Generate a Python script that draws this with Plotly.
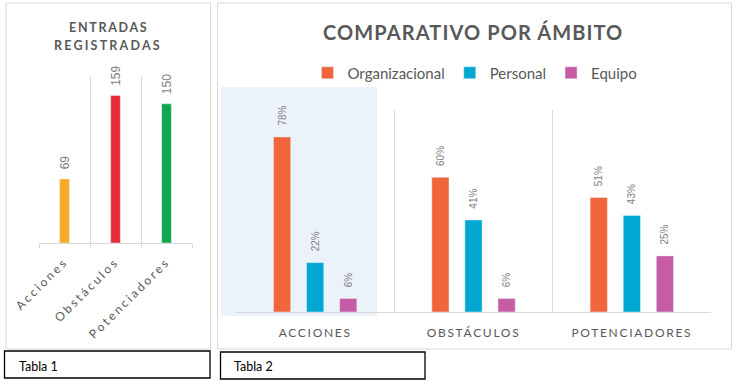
import plotly.graph_objects as go

W, H = 739, 384

# ---- data ----
entradas_cats = ["Acciones", "Obstáculos", "Potenciadores"]
entradas_vals = [69, 159, 150]
entradas_colors = ["#F9AA29", "#E62B3C", "#0FA64F"]

ambito_cats = ["ACCIONES", "OBSTÁCULOS", "POTENCIADORES"]
series_names = ["Organizacional", "Personal", "Equipo"]
organizacional = [78, 60, 51]
personal = [22, 41, 43]
equipo = [6, 6, 25]
series_colors = ["#F1653A", "#00A8D2", "#C65CA4"]


def px(x):
    return x / W


def py(y):
    return 1 - y / H


def spaced(t, s):
    return f'<span style="letter-spacing:{s}px">{t}</span>'


GRID = "#D9D9D9"
DARK = "#595959"
LBL = "#808080"

fig = go.Figure()

# left chart
fig.add_trace(go.Bar(
    x=[spaced(c, 2.6) for c in entradas_cats], y=entradas_vals,
    marker=dict(color=entradas_colors), width=0.19,
    text=["\u00a0\u00a0" + str(v) for v in entradas_vals],
    textposition="outside", textangle=-90, constraintext="none", cliponaxis=False,
    textfont=dict(family="Liberation Sans", size=12, color=LBL),
    showlegend=False, xaxis="x", yaxis="y", hoverinfo="skip",
))

# right chart
for name, vals, col in zip(series_names, [organizacional, personal, equipo], series_colors):
    fig.add_trace(go.Bar(
        x=[spaced(c, 1.7) for c in ambito_cats], y=vals, name=name,
        marker=dict(color=col),
        text=["\u00a0\u00a0\u00a0" + f"{v}%" for v in vals],
        textposition="outside", textangle=-90, constraintext="none", cliponaxis=False,
        textfont=dict(family="Liberation Sans", size=10, color=LBL),
        xaxis="x2", yaxis="y2",
    ))

shapes = [
    # panel borders
    dict(type="rect", xref="paper", yref="paper", x0=px(6), x1=px(210.5), y0=py(349), y1=py(3),
         line=dict(color=GRID, width=1), layer="below"),
    dict(type="rect", xref="paper", yref="paper", x0=px(217.5), x1=px(731.5), y0=py(349), y1=py(3),
         line=dict(color=GRID, width=1), layer="below"),
    # highlight
    dict(type="rect", xref="paper", yref="paper", x0=px(221), x1=px(377), y0=py(316), y1=py(87),
         fillcolor="#EBF2F9", line=dict(width=0), layer="below"),
    # caption boxes
    dict(type="rect", xref="paper", yref="paper", x0=px(4.5), x1=px(210), y0=py(378), y1=py(351),
         line=dict(color="#000000", width=1.3)),
    dict(type="rect", xref="paper", yref="paper", x0=px(220.5), x1=px(425), y0=py(379), y1=py(352),
         line=dict(color="#000000", width=1.3)),
]

annotations = [
    dict(text=spaced("<b>ENTRADAS</b>", 1.7), x=px(108), y=py(27), xref="paper", yref="paper",
         showarrow=False, font=dict(family="Lato", size=12.5, color=DARK), xanchor="center", yanchor="middle"),
    dict(text=spaced("<b>REGISTRADAS</b>", 2.2), x=px(108), y=py(46), xref="paper", yref="paper",
         showarrow=False, font=dict(family="Lato", size=12.5, color=DARK), xanchor="center", yanchor="middle"),
    dict(text=spaced("<b>COMPARATIVO POR ÁMBITO</b>", 1.1), x=px(473), y=py(32), xref="paper", yref="paper",
         showarrow=False, font=dict(family="Lato", size=20, color=DARK), xanchor="center", yanchor="middle"),
    dict(text="Tabla 1", x=px(17), y=py(366), xref="paper", yref="paper", showarrow=False,
         font=dict(family="Lato", size=12.5, color="#000000"), xanchor="left", yanchor="middle"),
    dict(text="Tabla 2", x=px(232), y=py(366), xref="paper", yref="paper", showarrow=False,
         font=dict(family="Lato", size=12.5, color="#000000"), xanchor="left", yanchor="middle"),
]

fig.update_layout(
    width=W, height=H, autosize=False,
    margin=dict(l=0, r=0, t=0, b=0, autoexpand=False),
    paper_bgcolor="white", plot_bgcolor="rgba(0,0,0,0)",
    barmode="group", bargap=0.373, bargroupgap=0.48,
    shapes=shapes, annotations=annotations,
    legend=dict(orientation="h", x=px(475), y=py(73), xanchor="center", yanchor="middle",
                font=dict(family="Lato", size=15, color=DARK), itemwidth=30,
                bgcolor="rgba(0,0,0,0)", traceorder="normal"),
    xaxis=dict(domain=[px(39), px(192)], type="category", tickson="boundaries", automargin=False,
               showgrid=True, gridcolor=GRID, gridwidth=1,
               showline=True, linecolor=GRID, linewidth=1,
               ticks="outside", ticklen=4, tickcolor=GRID, tickangle=-45,
               ticklabelstandoff=6,
               tickfont=dict(family="Lato", size=12, color=DARK), anchor="y", fixedrange=True),
    yaxis=dict(domain=[py(243), py(76)], range=[0, 180], visible=False, anchor="x", fixedrange=True),
    xaxis2=dict(domain=[px(236), px(711)], type="category", tickson="boundaries", automargin=False,
                showgrid=True, gridcolor=GRID, gridwidth=1,
                showline=True, linecolor=GRID, linewidth=1, ticks="",
                ticklabelstandoff=10,
                tickfont=dict(family="Lato", size=12, color=DARK), anchor="y2", fixedrange=True),
    yaxis2=dict(domain=[py(312), py(110)], range=[0, 90], visible=False, anchor="x2", fixedrange=True),
)

fig.write_html("out.html", config=dict(displayModeBar=False),
               post_script="document.body.style.margin='0';document.body.style.overflow='hidden';")
